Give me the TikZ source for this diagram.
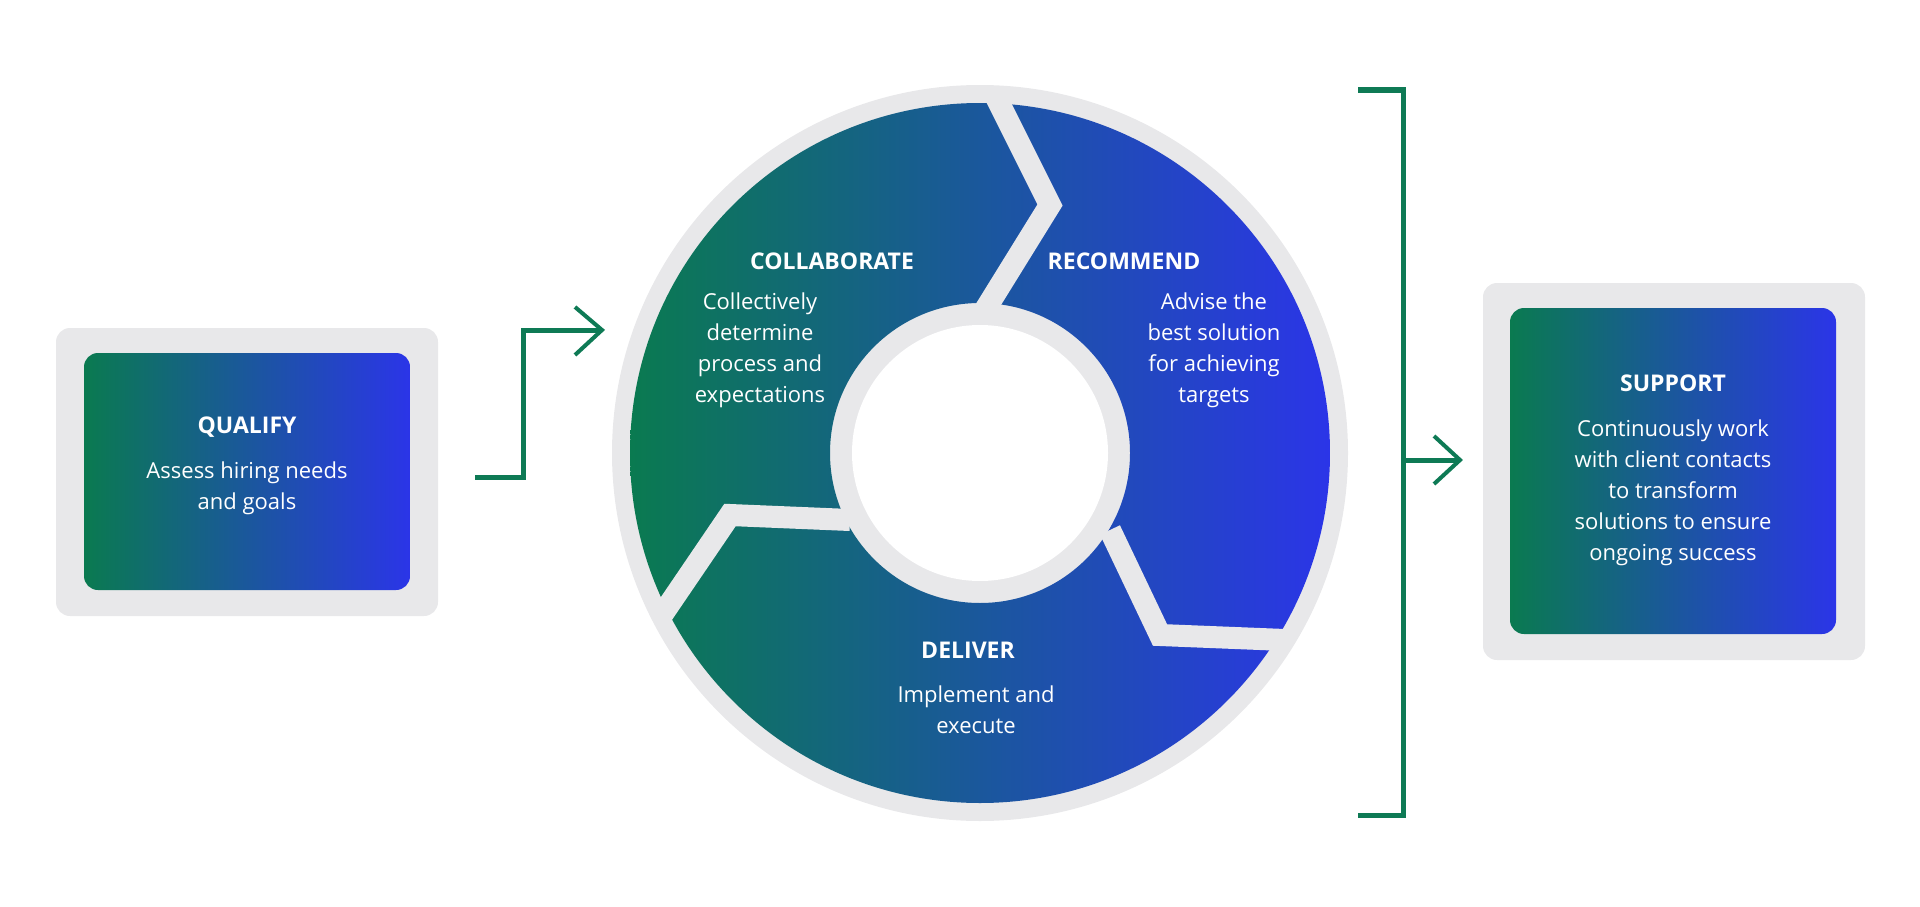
\documentclass[tikz,border=0pt]{standalone}
\usepackage{fontspec}
\setmainfont{Open Sans}
\definecolor{gA}{HTML}{0A7A50}
\definecolor{bA}{HTML}{2B35E8}
\definecolor{gr}{HTML}{E8E8EA}
\definecolor{ln}{HTML}{0E7A55}
\begin{document}
\begin{tikzpicture}[x=1pt,y=-1pt,
  hd/.style={text=white,font=\fontsize{23}{28}\selectfont\bfseries},
  bd/.style={text=white,font=\fontsize{22}{31}\selectfont,align=center},
  conn/.style={ln,line width=5pt},
  tip/.style={ln,line width=4pt}]
\useasboundingbox (0,0) rectangle (1920,907);
% qualify
\fill[gr,rounded corners=14pt] (56,328) rectangle (438,616);
\shade[left color=gA,right color=bA,rounded corners=14pt] (84,353) rectangle (410,590);
\node[hd] (q) at (247,427) {QUALIFY};
\node[bd] (qt) at (247,488) {Assess hiring needs\\and goals};
% support
\fill[gr,rounded corners=14pt] (1483,283) rectangle (1865,660);
\shade[left color=gA,right color=bA,rounded corners=14pt] (1510,308) rectangle (1836,634);
\node[hd] (s) at (1673,383) {SUPPORT};
\node[bd] (st) at (1673,493) {Continuously work\\with client contacts\\to transform\\solutions to ensure\\ongoing success};
% circle
\coordinate (c) at (980,453);
\fill[gr] (c) circle (368);
\shade[left color=gA,right color=bA,even odd rule] (c) circle (350) (c) circle (150);
\fill[white] (c) circle (128);
\draw[gr,line width=22pt,line join=miter] (995,95) -- (1050,205) -- (985,310);
\draw[gr,line width=22pt,line join=miter] (662,615) -- (730,515) -- (850,520);
\draw[gr,line width=22pt,line join=miter] (1110,530) -- (1160,635) -- (1285,640);
\node[hd] (co) at (832,261) {COLLABORATE};
\node[bd] (cot) at (760,350) {Collectively\\determine\\process and\\expectations};
\node[hd] (re) at (1124,261) {RECOMMEND};
\node[bd] (ret) at (1214,350) {Advise the\\best solution\\for achieving\\targets};
\node[hd] (de) at (968,650) {DELIVER};
\node[bd] (det) at (976,710) {Implement and\\execute};
% arrow left
\coordinate (a0) at (475,477);
\coordinate (a1) at (600,330);
\draw[conn] (a0) -- (523,477) -- (523,330) -- (a1);
\draw[tip] (575,307) -- (602,330) -- (575,355);
% bracket
\coordinate (b0) at (1358,90);
\coordinate (b1) at (1358,815);
\draw[conn] (b0) -- (1403,90) -- (1403,815) -- (b1);
\coordinate (b2) at (1460,460);
\draw[conn] (1403,460) -- (b2);
\draw[tip] (1434,436) -- (1460,460) -- (1434,484);
\end{tikzpicture}
\end{document}
